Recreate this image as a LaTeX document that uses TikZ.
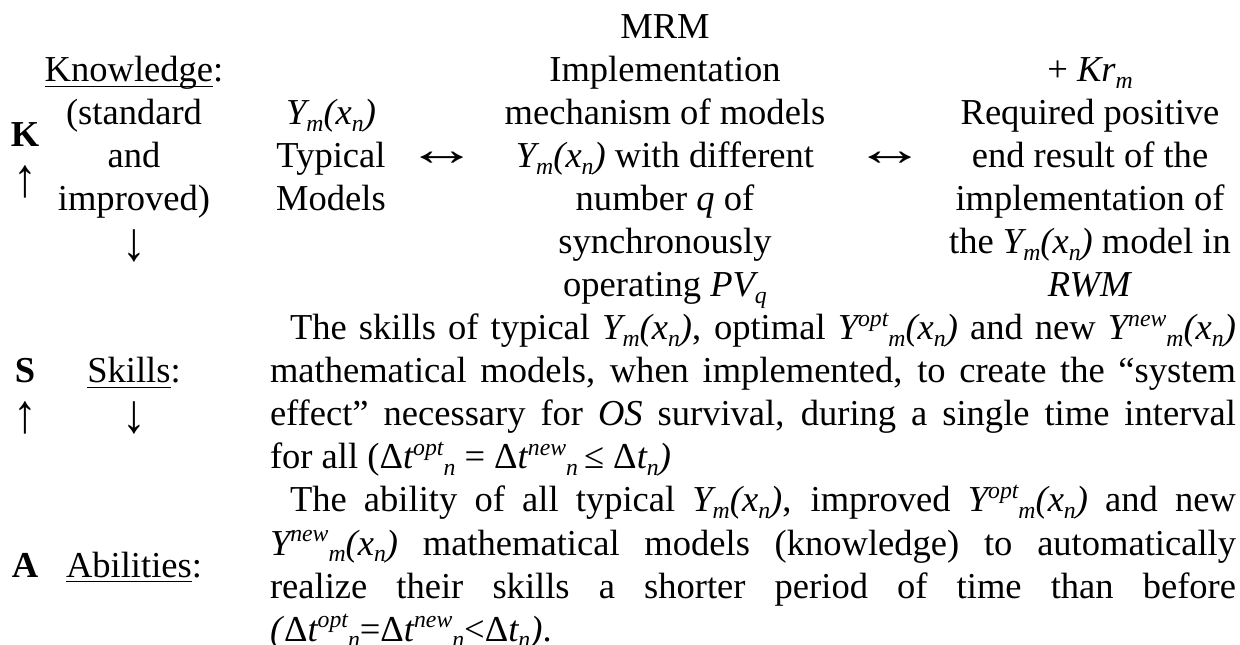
\documentclass[tikz,border=0pt]{standalone}
\usepackage{fontspec}
\usepackage{graphicx}
\setmainfont{Liberation Serif}
\newcommand\fs{\fontsize{27.4}{31.5}\selectfont}
\newcommand\dn[1]{\raisebox{-0.17em}{\fontsize{17.8}{20}\selectfont #1}}
\newcommand\up[1]{\raisebox{0.36em}{\fontsize{17.8}{20}\selectfont #1}}
\newcommand\Ym{\textit{Y\dn{m}(x\dn{n})}}
\newcommand\Yopt{\textit{Y\up{opt}\dn{m}(x\dn{n})}}
\newcommand\Ynew{\textit{Y\up{new}\dn{m}(x\dn{n})}}
\newcommand\myul[1]{\setbox0=\hbox{#1}\rlap{\rule[-4pt]{\wd0}{1.3pt}}\box0}
\newcommand\jfull[1]{\makebox[724.5pt][s]{#1}}
\newcommand\jind[1]{\makebox[709.5pt][s]{#1}}
\newcommand\uar{\raisebox{-5.2pt}{\scalebox{1.3}[1.5]{↑}}}
\newcommand\dar{\raisebox{-5.2pt}{\scalebox{1.3}[1.5]{↓}}}
\newcommand\lrar{\raisebox{1.5pt}{\scalebox{1.95}[1.3]{↔}}}
\begin{document}
\begin{tikzpicture}[x=0.75pt,y=-0.75pt,
  t/.style={inner sep=0,outer sep=0,anchor=base,font=\fs},
  j/.style={t,anchor=base west}]
\useasboundingbox[fill=white] (0,0) rectangle (1240,645);
% left letters
\node[t] (kK) at (25,147) {\textbf{K}};
\node[t] (kU) at (25,190) {\uar};
\node[t] (sS) at (25,383) {\textbf{S}};
\node[t] (sU) at (25,426) {\uar};
\node[t] (aA) at (25,577) {\textbf{A}};
% column 2
\node[t] (kn1) at (134,82) {\myul{Knowledge}:};
\node[t] (kn2) at (134,125) {(standard};
\node[t] (kn3) at (134,168) {and};
\node[t] (kn4) at (134,211) {improved)};
\node[t] (kn5) at (134,254) {\dar};
\node[t] (sk1) at (134,383) {\myul{Skills}:};
\node[t] (sk2) at (134,426) {\dar};
\node[t] (ab1) at (134,577) {\myul{Abilities}:};
% column 3
\node[t] (ty1) at (331,125) {\Ym};
\node[t] (ty2) at (331,168) {Typical};
\node[t] (ty3) at (331,211) {Models};
\node[t] (ar1) at (442,168) {\lrar};
% column 4
\node[t] (mr0) at (665,39) {MRM};
\node[t] (mr1) at (665,82) {Implementation};
\node[t] (mr2) at (665,125) {mechanism of models};
\node[t] (mr3) at (665,168) {\Ym{} with different};
\node[t] (mr4) at (665,211) {number \textit{q} of};
\node[t] (mr5) at (665,254) {synchronously};
\node[t] (mr6) at (665,297) {operating \textit{PV\dn{q}}};
\node[t] (ar2) at (890,168) {\lrar};
% column 5
\node[t] (re1) at (1090,82) {+ \textit{Kr\dn{m}}};
\node[t] (re2) at (1090,125) {Required positive};
\node[t] (re3) at (1090,168) {end result of the};
\node[t] (re4) at (1090,211) {implementation of};
\node[t] (re5) at (1090,254) {the \Ym{} model in};
\node[t] (re6) at (1090,297) {\textit{RWM}};
% skills text
\node[j] (st1) at (290,340) {\jind{The skills of typical \Ym, optimal \Yopt{} and new \Ynew}};
\node[j] (st2) at (270,383) {\jfull{mathematical models, when implemented, to create the “system}};
\node[j] (st3) at (270,426) {\jfull{effect” necessary for \textit{OS} survival, during a single time interval}};
\node[j] (st4) at (270,469) {for all (Δ\textit{t\up{opt}\dn{n}} = Δ\textit{t\up{new}\dn{n}}\,≤ Δ\textit{t\dn{n})}};
% abilities text
\node[j] (at1) at (290,512) {\jind{The ability of all typical \Ym, improved \Yopt{} and new}};
\node[j] (at2) at (270,555) {\jfull{\Ynew{} mathematical models (knowledge) to automatically}};
\node[j] (at3) at (270,598) {\jfull{realize their skills a shorter period of time than before}};
\node[j] (at4) at (270,641) {\textit{(}Δ\textit{t\up{opt}\dn{n}}=Δ\textit{t\up{new}\dn{n}}<Δ\textit{t\dn{n})}.};
\end{tikzpicture}
\end{document}
